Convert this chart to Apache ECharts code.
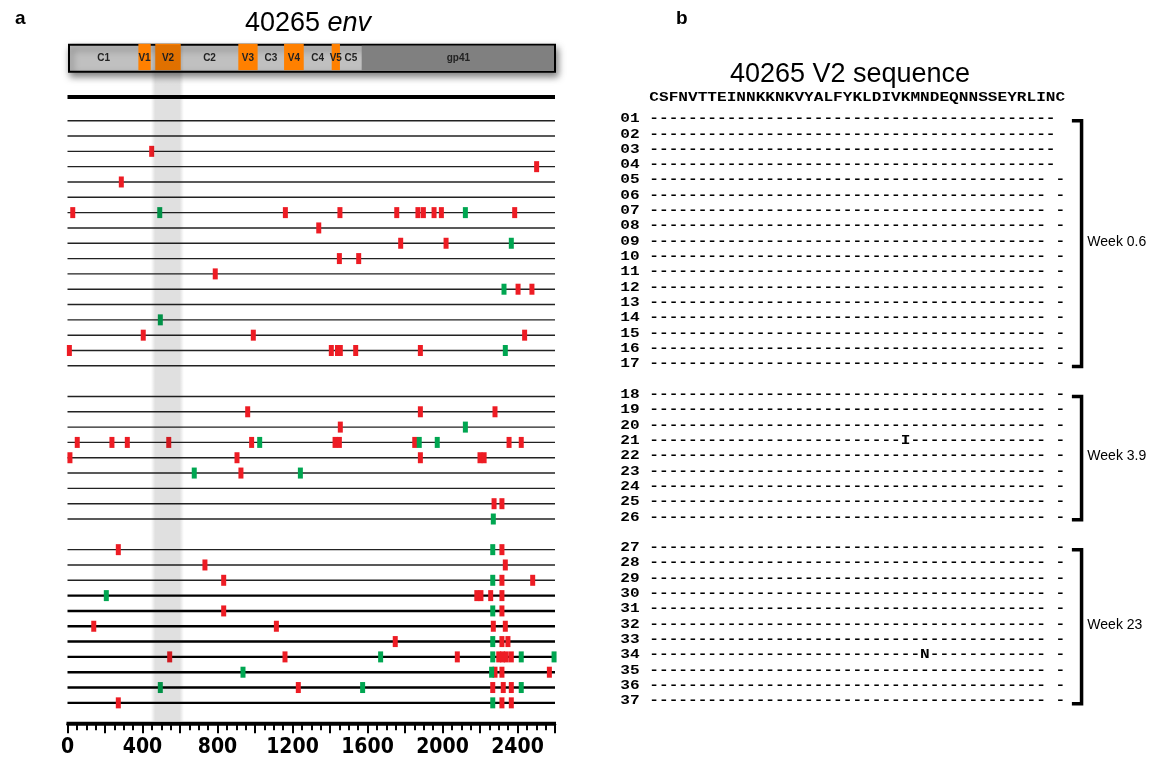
<!DOCTYPE html>
<html>
<head>
<meta charset="utf-8">
<script src="https://cdn.jsdelivr.net/npm/echarts@6/dist/echarts.min.js"></script>
<style>
html, body {margin: 0; padding: 0; background: #fff;}
#main {width: 1167px; height: 763px;}
</style>
</head>
<body>
<div id="main"></div>
<script>
// env regions, nt coordinates
var regionNames = ['C1', 'V1', 'V2', 'C2', 'V3', 'C3', 'V4', 'C4', 'V5', 'C5', 'gp41'];
var regionStart = [8, 378, 468, 604, 911, 1014, 1155, 1260, 1409, 1453, 1569];
var regionEnd = [378, 444, 604, 911, 1014, 1155, 1260, 1409, 1453, 1569, 2600];
var envLength = 2600;
var v2Shade = [445, 621];

// sampling time points and number of sequences in each
var weekNames = ['Week 0.6', 'Week 3.9', 'Week 23'];
var weekSizes = [17, 9, 11];

// mutations per sequence (01..37), nt position
var redSites = [
    [], [], [449], [2502], [287], [],
    [28, 1162, 1453, 1756, 1869, 1898, 1955, 1994, 2385],
    [1340], [1777, 2019], [1450, 1553], [788], [2403, 2477], [], [],
    [404, 991, 2438], [10, 1407, 1440, 1455, 1537, 1882], [],
    [], [961, 1882, 2280], [1455],
    [52, 237, 319, 540, 982, 1427, 1450, 1852, 2355, 2420],
    [13, 904, 1882, 2200, 2222], [925], [], [2275, 2317], [],
    [271, 2317], [733, 2335], [833, 2317, 2481], [2183, 2205, 2257, 2317],
    [833, 2317], [140, 1114, 2271, 2335], [1748, 2317, 2349],
    [545, 1160, 2079, 2300, 2320, 2340, 2367], [2280, 2317, 2570],
    [1231, 2268, 2324, 2367], [271, 2317, 2367]
];
var greenSites = [
    [], [], [], [], [], [], [492, 2122], [], [2367], [], [], [2328], [], [495],
    [], [2335], [],
    [], [], [2122], [1025, 1876, 1972], [], [676, 1242], [], [], [2271],
    [2268], [], [2268], [207], [2268], [], [2268], [1670, 2268, 2420, 2595],
    [936, 2262], [495, 1574, 2420], [2268]
];

// V2 alignment (amino acids)
var seqHeader = 'CSFNVTTEINNKKNKVYALFYKLDIVKMNDEQNNSSEYRLINC';
var shortRows = ['01', '02', '03', '04'];
var aaChanges = [{row: '21', col: 27, aa: 'I'}, {row: '34', col: 29, aa: 'N'}];

var xTicks = [0, 400, 800, 1200, 1600, 2000, 2400];

// rows: labels and vertical slots (one empty slot between groups)
var rowNames = [], rowPos = [];
var n = 0;
weekSizes.forEach(function(size, g) {
    for (var k = 0; k < size; k++) {
        n++;
        rowNames.push((n < 10 ? '0' : '') + n);
        rowPos.push(n + g);
    }
});
var weekFirst = [], weekLast = [];
var start = 0;
weekSizes.forEach(function(size) {
    weekFirst.push(rowPos[start]);
    weekLast.push(rowPos[start + size - 1]);
    start += size;
});

// alignment text rows
var alignRows = rowNames.map(function(name) {
    var s = '';
    for (var c = 1; c <= seqHeader.length; c++) {
        var ch = '-';
        if (c == seqHeader.length - 1) ch = ' ';
        aaChanges.forEach(function(m) {
            if (m.row == name && m.col == c) ch = m.aa;
        });
        s += ch;
    }
    if (shortRows.indexOf(name) >= 0) s = s.substr(0, seqHeader.length - 2) + '-';
    return name + ' ' + s;
});

var redData = [], greenData = [];
rowPos.forEach(function(p, i) {
    redSites[i].forEach(function(x) { redData.push([x, p]); });
    greenSites[i].forEach(function(x) { greenData.push([x, p]); });
});

var HEAD_TOP = -3.95, HEAD_BOT = -2.2, REF_LINE = -0.55, Y_MAX = 40.4;
var monoFont = 'bold 12px "Liberation Mono", "Courier New", monospace';
var squeeze = 1.343;

var myChart = echarts.init(document.getElementById('main'));

myChart.setOption({
    animation: false,
    backgroundColor: '#fff',
    title: [
        {text: 'a', left: 10, top: 4,
         textStyle: {fontSize: 19, fontWeight: 'bold', color: '#000', fontFamily: 'Liberation Sans'}},
        {text: '40265 {i|env}', left: 303, top: 5, textAlign: 'center',
         textStyle: {fontSize: 27, fontWeight: 'normal', color: '#000', fontFamily: 'Liberation Sans',
                     rich: {i: {fontSize: 27, fontStyle: 'italic', color: '#000', fontFamily: 'Liberation Sans'}}}},
        {text: 'b', left: 671, top: 4,
         textStyle: {fontSize: 19, fontWeight: 'bold', color: '#000', fontFamily: 'Liberation Sans'}},
        {text: '40265 V2 sequence', left: 845, top: 56, textAlign: 'center',
         textStyle: {fontSize: 27, fontWeight: 'normal', color: '#000', fontFamily: 'Liberation Sans'}}
    ],
    grid: [
        {left: 67.5, top: 44.1, width: 487.5, height: 680.2},
        {left: 620.3, top: 42.6, width: 502.84, height: 680.2}
    ],
    xAxis: [
        {
          gridIndex: 0, type: 'value', min: 0, max: envLength, interval: 200,
          axisLine: {show: true, onZero: false, lineStyle: {color: '#000', width: 2.5}},
          axisTick: {show: true, length: 9, lineStyle: {color: '#000', width: 2}},
          minorTick: {show: true, splitNumber: 4, length: 6, lineStyle: {color: '#000', width: 2}},
          splitLine: {show: false},
          axisLabel: {
              margin: 13, color: '#000', fontSize: 21, fontWeight: 'bold',
              fontFamily: '"Liberation Sans Narrow", "DejaVu Sans Condensed", "Liberation Sans"',
              formatter: function(v) { return xTicks.indexOf(v) >= 0 ? String(v) : ''; }
          }
        },
        {gridIndex: 1, type: 'value', min: -2, max: 50, show: false}
    ],
    yAxis: [
        {gridIndex: 0, type: 'value', inverse: true, min: -4, max: Y_MAX, show: false},
        {gridIndex: 1, type: 'value', inverse: true, min: -4, max: Y_MAX, show: false}
    ],
    series: [
        {
          // env bar background
          name: 'envBase', type: 'custom', z: 1,
          data: [[regionStart[0], envLength]],
          renderItem: function(params, api) {
              var a = api.coord([api.value(0), HEAD_TOP]);
              var b = api.coord([api.value(1), HEAD_BOT]);
              return {type: 'rect', shape: {x: a[0], y: a[1], width: b[0] - a[0], height: b[1] - a[1]},
                      style: {fill: '#c0c0c0', stroke: '#000', lineWidth: 2, shadowBlur: 7,
                              shadowOffsetX: 2, shadowOffsetY: 4, shadowColor: 'rgba(0,0,0,0.5)'}};
          }
        },
        {
          name: 'envRegions', type: 'custom', z: 2,
          data: regionStart.map(function(s, i) { return [s, regionEnd[i]]; }),
          renderItem: function(params, api) {
              var name = regionNames[params.dataIndex];
              var a = api.coord([api.value(0), HEAD_TOP]);
              var b = api.coord([api.value(1), HEAD_BOT]);
              var children = [];
              if (name.charAt(0) == 'V') {
                  children.push({type: 'rect', shape: {x: a[0], y: a[1] - 1, width: b[0] - a[0], height: b[1] - a[1] - 0.5},
                                 style: {fill: '#ff8000'}});
              } else if (name == 'gp41') {
                  children.push({type: 'rect', shape: {x: a[0], y: a[1] + 1, width: b[0] - a[0] - 1, height: b[1] - a[1] - 2},
                                 style: {fill: '#808080'}});
              }
              children.push({type: 'text', x: (a[0] + b[0]) / 2, y: (a[1] + b[1]) / 2,
                             style: {text: name, font: 'bold 10px "Liberation Sans", Arial', fill: '#222',
                                     align: 'center', verticalAlign: 'middle'}});
              return {type: 'group', children: children};
          }
        },
        {
          // sequence lines (id 0 = reference)
          name: 'rows', type: 'custom', z: 4,
          data: [[REF_LINE, 0]].concat(rowPos.map(function(p, i) { return [p, i + 1]; })),
          renderItem: function(params, api) {
              var y = api.value(0);
              var id = api.value(1);
              var p0 = api.coord([0, y]);
              var p1 = api.coord([envLength, y]);
              var w = id == 0 ? 4 : (id >= 30 ? 2.4 : 1.4);
              return {type: 'line', shape: {x1: p0[0], y1: p0[1], x2: p1[0], y2: p1[1]},
                      style: {stroke: id >= 30 || id == 0 ? '#000' : '#222', lineWidth: w}};
          }
        },
        {
          // axis base line drawn as a filled bar just above the ticks
          name: 'axisBase', type: 'custom', z: 7, silent: true,
          data: [[0, envLength]],
          renderItem: function(params, api) {
              var p0 = api.coord([api.value(0), Y_MAX]);
              var p1 = api.coord([api.value(1), Y_MAX]);
              return {type: 'rect', shape: {x: p0[0] - 1, y: p0[1] - 2.5, width: p1[0] - p0[0] + 2, height: 3},
                      style: {fill: '#000'}};
          }
        },
        {
          name: 'red', type: 'scatter', z: 5, symbol: 'rect', symbolSize: [5, 11],
          itemStyle: {color: '#ed1c24', opacity: 1},
          data: redData
        },
        {
          name: 'green', type: 'scatter', z: 5, symbol: 'rect', symbolSize: [5, 11],
          itemStyle: {color: '#00a651', opacity: 1},
          data: greenData
        },
        {
          // V2 shading
          name: 'v2', type: 'custom', z: 6, silent: true,
          data: [v2Shade],
          renderItem: function(params, api) {
              var a = api.coord([api.value(0), HEAD_TOP]);
              var b = api.coord([api.value(1), Y_MAX - 0.2]);
              return {type: 'rect', shape: {x: a[0], y: a[1], width: b[0] - a[0], height: b[1] - a[1]},
                      style: {fill: new echarts.graphic.LinearGradient(0, 0, 1, 0, [
                          {offset: 0, color: 'rgba(0,0,0,0)'},
                          {offset: 0.13, color: 'rgba(0,0,0,0.12)'},
                          {offset: 0.87, color: 'rgba(0,0,0,0.12)'},
                          {offset: 1, color: 'rgba(0,0,0,0)'}])}};
          }
        },
        {
          // panel b: header sequence
          name: 'seqHeader', type: 'custom', xAxisIndex: 1, yAxisIndex: 1,
          data: [[1, -0.38]],
          renderItem: function(params, api) {
              var p = api.coord([api.value(0), api.value(1)]);
              return {type: 'text', x: p[0], y: p[1], scaleX: squeeze,
                      style: {text: seqHeader, font: monoFont, fill: '#000', align: 'left', verticalAlign: 'middle'}};
          }
        },
        {
          name: 'alignment', type: 'custom', xAxisIndex: 1, yAxisIndex: 1,
          data: rowPos.map(function(p) { return [-2, p]; }),
          renderItem: function(params, api) {
              var p = api.coord([api.value(0), api.value(1)]);
              return {type: 'text', x: p[0], y: p[1], scaleX: squeeze,
                      style: {text: alignRows[params.dataIndex], font: monoFont, fill: '#000',
                              align: 'left', verticalAlign: 'middle'}};
          }
        },
        {
          name: 'weeks', type: 'custom', xAxisIndex: 1, yAxisIndex: 1,
          data: weekFirst.map(function(f, i) { return [f, weekLast[i]]; }),
          renderItem: function(params, api) {
              var t0 = api.coord([44.7, api.value(0) + 0.1]);
              var t1 = api.coord([45.7, api.value(0) + 0.1]);
              var b1 = api.coord([45.7, api.value(1) + 0.15]);
              var b0 = api.coord([44.7, api.value(1) + 0.15]);
              var lab = api.coord([46.3, (api.value(0) + api.value(1)) / 2]);
              return {type: 'group', children: [
                  {type: 'polyline', shape: {points: [t0, t1, b1, b0]},
                   style: {stroke: '#000', lineWidth: 3.5, fill: null, lineJoin: 'miter'}},
                  {type: 'text', x: lab[0], y: lab[1],
                   style: {text: weekNames[params.dataIndex], font: '14px "Liberation Sans", Arial',
                           fill: '#000', align: 'left', verticalAlign: 'middle'}}
              ]};
          }
        }
    ]
});
window.onresize = myChart.resize;
</script>
</body>
</html>
